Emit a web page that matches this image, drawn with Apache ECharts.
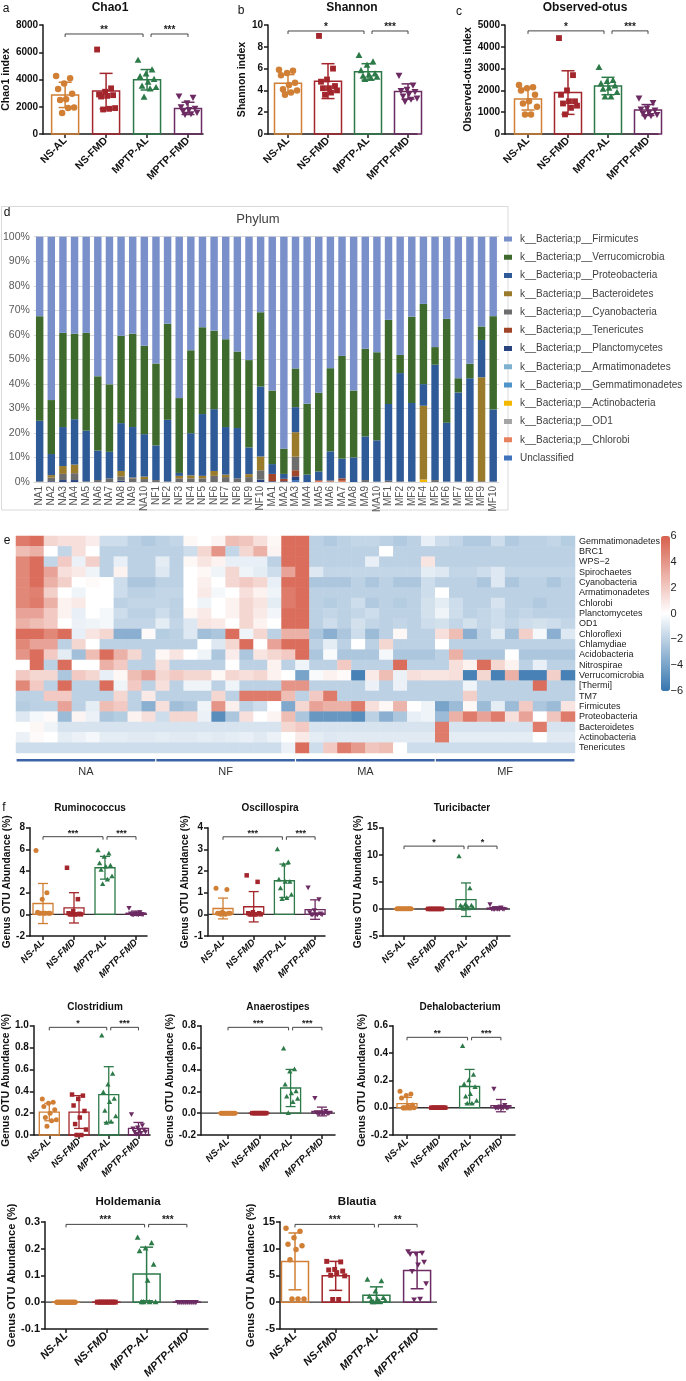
<!DOCTYPE html>
<html><head><meta charset="utf-8">
<script src="https://cdn.jsdelivr.net/npm/echarts@6/dist/echarts.min.js"></script>
<style>html,body{margin:0;padding:0;background:#fff}#c{width:686px;height:1381px}</style>
</head><body><div id="c"></div>
<script>
const FONT = '"Liberation Sans", Arial, sans-serif';
const NARROW = '"Liberation Sans Narrow", "Arial Narrow", "Liberation Sans", sans-serif';

// ---------- common groups ----------
const groups = ['NS-AL', 'NS-FMD', 'MPTP-AL', 'MPTP-FMD'];
const groupColors = ['#d07f35', '#a3262c', '#2d7a49', '#6c2b62'];

// ---------- panel a-c ----------
const chao1Mean = [2870, 3150, 3980, 1880];
const chao1Sd = [930, 1300, 750, 450];
const chao1Points = [
  [4250, 4100, 3700, 3300, 2950, 2550, 2500, 1950, 1900, 1550],
  [6200, 3350, 3100, 2900, 2850, 2800, 2750, 1900, 1850, 1800],
  [5400, 4700, 4400, 4200, 4000, 3800, 3500, 3400, 3300, 2700],
  [2800, 2700, 2300, 2000, 1900, 1800, 1700, 1600, 1500, 1450]];
const chao1Sig = ['**', '***'];

const shannonMean = [4.65, 4.85, 5.7, 3.9];
const shannonSd = [0.8, 1.6, 0.75, 0.7];
const shannonPoints = [
  [5.9, 5.8, 5.6, 5.4, 4.7, 4.5, 4.1, 4.0, 3.8, 3.6],
  [9.0, 6.0, 5.0, 4.8, 4.4, 4.2, 4.2, 4.0, 3.8, 3.6],
  [7.2, 6.6, 6.3, 5.8, 5.5, 5.4, 5.3, 5.2, 5.1, 5.0],
  [5.4, 4.5, 4.1, 4.0, 3.9, 3.7, 3.5, 3.3, 3.2, 3.0]];
const shannonSig = ['*', '***'];

const otusMean = [1600, 1900, 2200, 1100];
const otusSd = [500, 1000, 400, 250];
const otusPoints = [
  [2250, 2150, 2100, 2000, 1800, 1500, 1400, 1250, 900, 900],
  [4400, 2700, 2000, 1800, 1500, 1500, 1400, 1300, 1200, 900],
  [3050, 2450, 2400, 2300, 2200, 2100, 2050, 1900, 1700, 1700],
  [1650, 1450, 1200, 1150, 1100, 1000, 950, 900, 850, 800]];
const otusSig = ['*', '***'];

// ---------- panel f ----------
const ruminoMean = [1.0, 0.6, 4.3, 0.1];
const ruminoSd = [1.85, 1.4, 1.05, 0.2];
const ruminoPoints = [
  [5.9, 2.0, 1.4, 0.2, 0.1, 0.1, 0.1, 0.1, 0.1, 0.1],
  [4.3, 1.4, 0.3, 0.1, 0.05, 0, 0, 0, 0, 0],
  [5.9, 5.6, 5.3, 4.7, 4.5, 4.4, 4.1, 3.5, 3.2, 2.8],
  [0.6, 0.2, 0.1, 0.1, 0.05, 0.05, 0, 0, 0, 0]];
const ruminoSig = ['***', '***'];

const oscilloMean = [0.27, 0.35, 1.55, 0.22];
const oscilloSd = [0.48, 0.7, 0.77, 0.45];
const oscilloPoints = [
  [1.2, 1.15, 0.1, 0.05, 0.05, 0.05, 0.05, 0.05, 0, 0],
  [1.8, 1.5, 0.1, 0.05, 0.05, 0, 0, 0, 0, 0],
  [3.0, 2.4, 2.3, 1.6, 1.5, 1.5, 1.2, 0.9, 0.75, 0.7],
  [1.25, 0.7, 0.2, 0.1, 0.05, 0, 0, 0, 0, 0]];
const oscilloSig = ['***', '***'];

const turiciMean = [0, 0, 1.7, 0.15];
const turiciSd = [0, 0, 3.1, 0.25];
const turiciPoints = [
  [0.05, 0.05, 0.05, 0.05, 0.05, 0.05, 0.05, 0.05, 0.05, 0.05],
  [0, 0, 0, 0, 0, 0, 0, 0, 0, 0],
  [9.7, 3.8, 0.8, 0.6, 0.6, 0.5, 0.3, 0.2, 0.1, 0],
  [0.9, 0.3, 0.1, 0.05, 0.05, 0, 0, 0, 0, 0]];
const turiciSig = ['*', '*'];

const clostrMean = [0.21, 0.21, 0.37, 0.06];
const clostrSd = [0.08, 0.15, 0.255, 0.055];
const clostrPoints = [
  [0.33, 0.3, 0.29, 0.26, 0.23, 0.2, 0.16, 0.14, 0.13, 0.08],
  [0.37, 0.36, 0.33, 0.27, 0.22, 0.16, 0.1, 0.05, 0, 0],
  [0.91, 0.56, 0.46, 0.39, 0.33, 0.3, 0.22, 0.17, 0.12, 0.11],
  [0.19, 0.09, 0.07, 0.06, 0.05, 0.04, 0.03, 0.03, 0.02, 0.01]];
const clostrSig = ['*', '***'];

const anaeroMean = [0, 0, 0.23, 0.015];
const anaeroSd = [0, 0, 0.17, 0.04];
const anaeroPoints = [
  [0, 0, 0, 0, 0, 0, 0, 0, 0, 0],
  [0, 0, 0, 0, 0, 0, 0, 0, 0, 0],
  [0.59, 0.4, 0.38, 0.26, 0.2, 0.18, 0.15, 0.13, 0.1, 0.0],
  [0.14, 0.02, 0.01, 0.01, 0, 0, 0, 0, 0, 0]];
const anaeroSig = ['***', '***'];

const dehaloMean = [0.03, 0, 0.155, 0.015];
const dehaloSd = [0.045, 0, 0.125, 0.045];
const dehaloPoints = [
  [0.12, 0.1, 0.09, 0.07, 0.02, 0.01, 0, 0, 0, 0],
  [0, 0, 0, 0, 0, 0, 0, 0, 0, 0],
  [0.45, 0.24, 0.2, 0.17, 0.15, 0.1, 0.08, 0.05, 0.03, 0.03],
  [0.14, 0.02, 0.01, 0, 0, 0, 0, 0, 0, 0]];
const dehaloSig = ['**', '***'];

const holdemMean = [0, 0, 0.105, 0];
const holdemSd = [0, 0, 0.1, 0];
const holdemPoints = [
  [0, 0, 0, 0, 0, 0, 0, 0, 0, 0],
  [0, 0, 0, 0, 0, 0, 0, 0, 0, 0],
  [0.24, 0.22, 0.2, 0.19, 0.14, 0.08, 0, 0, 0, 0],
  [0, 0, 0, 0, 0, 0, 0, 0, 0, 0]];
const holdemSig = ['***', '***'];

const blautiaMean = [7.6, 4.9, 1.3, 5.9];
const blautiaSd = [5.3, 2.7, 1.55, 3.4];
const blautiaPoints = [
  [13.8, 13.2, 12.0, 10.8, 10.5, 9.8, 7.9, 0.6, 0.6, 0.6],
  [7.6, 7.5, 6.1, 6.0, 5.8, 5.5, 5.0, 4.9, 0.5, 0.5],
  [4.2, 3.9, 2.0, 1.0, 0.8, 0.5, 0.3, 0.2, 0.1, 0.0],
  [9.5, 9.2, 9.0, 9.0, 7.5, 7.0, 5.8, 3.5, 0.6, 0.5]];
const blautiaSig = ['***', '**'];

// ---------- panel d ----------
const samples = ['NA1','NA2','NA3','NA4','NA5','NA6','NA7','NA8','NA9','NA10',
  'NF1','NF2','NF3','NF4','NF5','NF6','NF7','NF8','NF9','NF10',
  'MA1','MA2','MA3','MA4','MA5','MA6','MA7','MA8','MA9','MA10',
  'MF1','MF2','MF3','MF4','MF5','MF6','MF7','MF8','MF9','MF10'];
const phylumNames = ['Unclassified','k__Bacteria;p__Chlorobi','k__Bacteria;p__OD1','k__Bacteria;p__Actinobacteria',
  'k__Bacteria;p__Gemmatimonadetes','k__Bacteria;p__Armatimonadetes','k__Bacteria;p__Planctomycetes',
  'k__Bacteria;p__Tenericutes','k__Bacteria;p__Cyanobacteria','k__Bacteria;p__Bacteroidetes',
  'k__Bacteria;p__Proteobacteria','k__Bacteria;p__Verrucomicrobia','k__Bacteria;p__Firmicutes'];
const phylumColors = ['#4173bb','#e8825e','#a5a5a5','#f5b800','#4f93c9','#7eb0cf','#2a4480',
  '#a0452a','#6d6d6d','#9a7b2c','#2f5a98','#3e6b2d','#7a90cb'];
const unclassified = [0,0,0,0,0,0,0,0,0,0, 0,0,0,0,0,0,0,0,0,0, 0,0,0.8,0,0,0,0,0,0,0, 0,0,0,0,0,0,0,0,0,0];
const chlorobi = [0,0,0,0,0,0,0,0,0,0, 0,0,0,0,0,0,0,0,0,0, 0,0,0,0,0.4,0.3,0.5,0,0,0, 0,0,0,0,0,0,0,0,0,0];
const od1 = [0,0,0,0,0,0,0,0,0,0, 0,0,0,0,0,0,0,0,0,0, 0,0,0,0,0,0,0,0,0,0, 0,0,0,0,0,0,0,0,0,0];
const actino = [0,0,0,0,0,0,0,0,0,0, 0,0,0,0,0,0,0,0,0,0, 0,0,0,0,0,0,0,0,0,0, 0,0,0,1.0,0,0,0,0,0,0];
const gemma = [0,0,0,0,0,0,0,0,0,0, 0,0,0,0,0,0,0,0,0,0, 0,0,0,0,0,0,0,0,0,0, 0,0,0,0,0,0,0,0,0,0];
const armati = [0,0,0,0,0,0,0,0,0,0, 0,0,0,0,0,0,0,0,0,0, 0,0,0,0,0,0,0,0,0,0, 0,0,0,0,0,0,0,0,0,0];
const plancto = [0,0.3,0.8,0.8,0,0,0,0.5,0,0, 0,0,0,0,0,0,0,0,0,1.0, 0.3,0.3,1.5,0,0,0,0,0,0,0, 0,0,0,0,0,0,0,0,0,0];
const teneri = [0,0,0,0,0,0,0,0,0,0, 0,0,0,0,0,0,0,0,0,0, 3.0,1.0,2.5,0,0.3,0,1.0,0,0,0, 0,0,0,0,0,0,0,0,0,0];
const cyano = [0.3,1.5,2.5,2.8,0.3,0.8,1.5,1.8,1.5,1.2, 0.8,0.3,1.5,1.5,1.5,2.5,2.0,1.5,2.0,3.8,
  0,0,5.5,0,0,0.4,0,0,0.8,0.2, 0.5,0.3,0.2,0,0.8,0.2,0.2,0.3,0.3,0.2];
const bactero = [0,1.0,3.2,3.5,0,0,0,2.2,0.3,1.0, 0,0,1.0,1.2,1.0,2.0,1.0,0,1.2,5.6,
  0,0,10.0,0,0,0,0,0,0,0, 0,0,0,30.1,0,0,0,0,42.4,0];
const proteo = [24.7,8.6,15.9,18.5,20.6,12.0,10.8,19.5,20.6,17.3, 14.1,25.1,1.2,17.2,25.2,25.2,19.4,20.5,10.9,28.5,
  4.0,2.0,10.2,3.0,3.6,11.8,8.0,10.0,17.8,16.8, 31.3,44.1,32.0,8.8,47.0,24.0,36.3,42.0,15.2,29.4];
const verruco = [42.6,22.0,38.4,34.8,39.9,30.3,27.5,35.6,38.0,36.0, 33.4,39.1,30.5,33.8,35.4,32.0,35.8,31.2,35.6,30.3,
  30.0,10.3,15.8,28.9,32.1,33.9,41.9,27.3,35.7,35.9, 34.3,7.4,35.2,32.7,7.2,42.3,5.8,5.9,5.5,38.0];
const firmi = [32.4,66.6,39.2,39.6,39.2,56.9,60.2,40.4,39.6,44.5, 51.7,35.5,65.8,46.3,36.9,38.3,41.8,46.8,50.3,30.8,
  62.7,86.4,53.7,68.1,63.6,53.6,48.6,62.7,45.7,47.1, 33.9,48.2,32.6,27.4,45.0,33.5,57.7,51.8,36.6,32.4];
const phylumValues = [unclassified, chlorobi, od1, actino, gemma, armati, plancto, teneri, cyano, bactero, proteo, verruco, firmi];
const yPercentTicks = '{value}%';

// ---------- panel e ----------
const heatGroups = ['NA', 'NF', 'MA', 'MF'];
const heatGroupSpans = [[0, 9], [10, 19], [20, 29], [30, 39]];
const heatPhyla = ['Gemmatimonadetes','BRC1','WPS\u22122','Spirochaetes','Cyanobacteria','Armatimonadetes','Chlorobi',
  'Planctomycetes','OD1','Chloroflexi','Chlamydiae','Acidobacteria','Nitrospirae','Verrucomicrobia','[Thermi]',
  'TM7','Firmicutes','Proteobacteria','Bacteroidetes','Actinobacteria','Tenericutes'];
const heatRows = [
 [5,5.5,1.5,1.2,1.2,0.7,-1.5,-1.5,-2,-2.3,-2,-1.8,0.3,0,0.4,2.5,2.2,1.2,0.3,5.5, 5.5,-2,-2.3,-2,-1.8,-1.8,-2,-2.3,-2,-0.7,-1.5,-1.8,-2.3,-2.3,-1.5,-2.3,-2,-2,-1.8,-2.2],
 [2.5,3,0,-1.8,1.2,0,-2,-2,-2,-2,-2,-2,-1.5,1.5,4,-1.8,1.5,3,0.4,5.5, 5.5,-2,-2,-2,-2,-2,0,-2,-2,-2,-2,-2,-2,-2,-2,-2,-2,-2,-2,-2],
 [4.5,5.5,-1.8,2,-0.6,1.8,-2,-0.7,-2,-2,-0.8,-2,0.3,1.0,0.5,-0.7,-0.7,-0.7,-2,5.5, 5.5,-2,-2,-2,-2,-0.7,-2,-2,-2,1.0,-2,-2,-2,-2,-2,-2,-2,-2,-2,-2],
 [4.5,5.5,3.5,1.2,0.8,-0.5,-2,0.5,-2,-2,-1,-2,0,0.3,-0.5,1.5,-0.5,-0.8,-1.5,3.5, 5.5,-1,-1.8,-1.8,-1.8,-1.8,-1.8,-1.8,-1.8,-0.8,-1,-1.8,-1.8,-1.5,-1,-1.8,-1.8,-1.8,-1.8,-1.8],
 [4.5,5.5,3,1.8,0,0.2,0,-1.5,-2.5,-2.5,-2,-2,0,0.6,0,1.5,2,1.5,-0.7,5.5, 5.5,-2.5,-2.5,-2.5,-2,-2.5,-2,-2.5,-2.5,-1.5,-2,-2,-2,-2.5,-1,-2.5,-2,-2,-2.5,-2],
 [4.5,4.8,1.8,0,-0.5,0,0,-1.5,-2,-2,-1.8,-1.8,0,0.8,-0.3,0,1.2,0.5,-0.5,5, 5.5,-2,-2,-2,-2,-2,-2,-2,-2,-1.5,0,-2,-2,-2,-2,-2,-2,-2,-2,-2],
 [4.5,5,3,0.5,0.8,0,0,-2,-1.8,-1.8,-1.8,-2,0,-0.5,0,0.5,1.5,1,-0.8,5, 5.5,-2,-2.2,-2,-1.5,-2.3,-2,-2.2,-2,-1.3,-0.8,-1.5,-2,-2,-1.2,-2,-2,-2.3,-2,-2],
 [3.5,3.5,2,0.5,-0.7,0,-0.3,-1.5,-2,-2,-1.5,-2,0.3,0.8,0,0.5,1.5,0.8,-0.4,5.5, 5.5,-2,-1.8,-2,-1.8,-1.5,-2,-2,-2,-1.3,-0.5,-1.5,-2,-1.8,-1.5,-2,-1.8,-2,-2,-2],
 [3,2.5,2,0,-0.6,-0.5,-0.3,-1.8,-1.8,-1.8,-0.8,-1.8,-1,1,0.8,0,1.5,0.5,0,5.5, 5.5,-2,-1.5,-2,-1.3,-1.8,-2,-1.8,-2,-1.5,-1.3,-1.8,-1.3,-1.8,-1.5,-1.8,-1.5,-1.3,-1.5,-1.8],
 [5.5,5.5,4.5,5.5,-0.7,1,1.5,-3.5,-3.5,0.2,-2.2,-2,-1,-2.8,-2.5,5.5,-0.5,1.5,-2,3, 3,-2.5,-3.5,-2.5,-1.5,-3,-2,0.3,-2,-2,1.2,2.5,-3.5,-2,-0.8,-2.8,1.8,-0.3,-3.5,-1],
 [4.5,3.5,3.5,-2,1.5,0,-2,-2,-2,-2,-2,-2,-2,0,-1,1.5,5.5,0,3.5,5.5, 5.5,-2,-0.8,-2,0,-2,1.5,-2,-2,-2,0,-2,-2,-2,-2,-2,-2,-2,-2,-2],
 [4,5.5,2,-0.8,-2.8,2.5,5.5,3,1.5,-2,0.3,1,0,-0.5,-2.5,0.7,-2.5,1,1.5,2, 5.5,-2.5,-0.2,-2.5,-2.5,-2.5,-0.3,-2.5,-2.5,-2.5,-2,3,-2.5,-2.5,-2.5,0,-2.5,-2.5,-2.5,-2.5],
 [0,5.5,-2,5.5,0,0,3,2,-2,-2,1.2,-2,-2,-2,-2,0,-2,-2,0.5,-2, -0.5,-2,-2,2,-2,-2,-2,5.5,-2,-2,-2,1.2,0.5,5.5,1.5,0.5,-2,-0.7,-2,-2],
 [2,1.5,1.5,-2.5,2,1.5,-0.7,0.3,2.5,3.5,1.5,2,1.5,1.5,0.3,1.5,1.2,1.5,0.5,0, -4,-0.2,0.5,0.2,-5.5,0.8,2.5,-0.6,1.2,1,1,1.2,-5.5,1.5,-5.5,3,-5.5,-5.5,1.8,-5.5],
 [4.5,2,-2,5.5,-2,-2,5.5,-0.5,2,-2,1.2,-2,-0.5,-0.5,-2,-0.5,-2,-2,-2,4, 4,-2,-2,-2,-2,-0.6,-2,-0.6,-2,-2,-2,-2,-0.5,-2,-2,-2,-2,5.5,-2,-2],
 [-2,-2,2,2,-2,-2,-2,1.5,-2,0.8,-2,-2,-2,-2,1.5,-2,5,5,5,2.5, -2,2,5,-2,-2,-2,-2,-2,-2,-2,-2,-2,1.8,-2,-2,-2,-2,-2,-2,-2],
 [-2.2,-2,-2,3.5,-2,-0.8,2.5,2,-2,-3.5,1.2,-2.8,-2.5,-0.5,4,0.6,-2,-1.5,0,-3.8, 1.5,3.5,3,3,5,1.2,0.3,2.8,0,-0.5,-4,-3,0.3,-3,-0.8,-3,2,-2.5,-3,1],
 [-1,-0.3,0.2,-3,0.4,-0.6,-2.5,-2.2,0.5,1.2,-1.5,1.5,1.5,-0.6,-5,-2.5,1.2,0,0.4,2.5, -2.5,-4.5,-4.5,-4.5,-5,-2,-3.5,-2.5,-0.7,-0.5,-3,3,5,3.5,5,1.2,3.5,0,2.2,5],
 [0,0.3,-0.5,-1.2,-1.2,-1.2,-1.2,-1.2,-1.2,-1.2,-1.2,-1.2,-1.2,-1.2,-1.2,-1.2,-1.2,-1.2,-1.2,1.5, 2,-1.2,-1.2,-1.2,-1.2,-1.2,-1.2,-1.2,-1.2,-1.2,5,-1.2,-1.2,-1.2,-1.2,-1.2,-1.2,5,-1.2,-1.2],
 [-0.6,0.2,0,-0.8,-0.6,-0.3,-0.8,-0.8,-0.9,-0.9,-0.8,-0.9,-0.9,-0.8,-0.9,-0.8,-0.7,-0.9,-0.6,0, 0.8,-0.8,-1,-0.9,-0.9,-0.9,-0.9,-0.9,-0.9,-0.9,5,-0.8,-0.8,-0.8,-0.8,-0.8,-0.8,0,-0.9,-0.9],
 [-1.5,-1.5,-1.5,-1.5,-1.5,-1.5,-1.5,-1.5,-1.5,-1.5,-1.5,-1.5,-1.5,-1.5,-1.5,-1.5,-1.5,-1.5,-1.5,-0.6, 5.5,-1.5,2,5,3.8,2.2,2.5,0,-1.5,-1.5,-1.5,-1.5,-1.5,-1.5,-1.5,-1.5,-1.5,-1.5,-1.5,-1.5]];
const heatColors = ['#3676ae', '#ffffff', '#d7604c'];

// =====================================================================
const option = {
  animation: false, backgroundColor: '#ffffff',
  textStyle: { fontFamily: FONT },
  grid: [], xAxis: [], yAxis: [], series: [], graphic: []
};
function addText(x, y, text, font, extra) {
  option.graphic.push({ type: 'text', x: x, y: y, z: 100, silent: true,
    style: Object.assign({ text: text, font: font, fill: '#111', align: 'center', verticalAlign: 'middle',
      textAlign: 'center', textVerticalAlign: 'middle' }, extra || {}) });
}
function shapeFor(g, x, y, r, color) {
  if (g === 0) return { type: 'circle', shape: { cx: x, cy: y, r: r }, style: { fill: color } };
  if (g === 1) return { type: 'rect', shape: { x: x - r * 0.9, y: y - r * 0.9, width: r * 1.8, height: r * 1.8 }, style: { fill: color } };
  if (g === 2) return { type: 'polygon', shape: { points: [[x, y - r * 1.15], [x + r * 1.05, y + r * 0.75], [x - r * 1.05, y + r * 0.75]] }, style: { fill: color } };
  return { type: 'polygon', shape: { points: [[x, y + r * 1.15], [x + r * 1.05, y - r * 0.75], [x - r * 1.05, y - r * 0.75]] }, style: { fill: color } };
}

function barPanel(p) {
  const gi = option.grid.length;
  const c3 = p.c0 + 3 * p.step;
  const xmin = -(p.c0 - p.ax) / p.step, xmax = 3 + (p.end - c3) / p.step;
  const axisCol = '#1a1a1a';
  option.grid.push({ left: p.ax, top: p.top, width: p.end - p.ax, height: p.bottom - p.top });
  option.xAxis.push({ type: 'value', gridIndex: gi, min: xmin, max: xmax, splitLine: { show: false },
    axisLine: { show: true, onZero: false, lineStyle: { color: axisCol, width: 1.5 } },
    axisTick: { show: true, customValues: [0, 1, 2, 3], length: 4, lineStyle: { color: axisCol, width: 1.5 } },
    axisLabel: { customValues: [0, 1, 2, 3], formatter: v => groups[Math.round(v)] || '', rotate: 45, fontSize: p.xfs,
      fontWeight: 'bold', fontStyle: p.italic ? 'italic' : 'normal', color: '#111', margin: 5, fontFamily: FONT } });
  option.yAxis.push({ type: 'value', gridIndex: gi, min: p.ymin, max: p.ymax, interval: p.interval, splitLine: { show: false },
    axisLine: { show: true, onZero: false, lineStyle: { color: axisCol, width: 1.5 } },
    axisTick: { show: true, length: 4, lineStyle: { color: axisCol, width: 1.5 } },
    axisLabel: { fontSize: p.yfs, fontWeight: 'bold', color: '#111', margin: 5, fontFamily: FONT,
      formatter: v => (p.dec ? v.toFixed(p.dec) : String(Math.round(v))) },
    name: p.yName, nameLocation: 'middle', nameGap: p.nameGap,
    nameTextStyle: { fontSize: p.nfs, fontWeight: 'bold', color: '#111', fontFamily: FONT } });
  const base = { type: 'custom', xAxisIndex: gi, yAxisIndex: gi, silent: true, clip: false };
  if (p.ymin < 0) {
    option.series.push(Object.assign({}, base, { data: [[0, 0]], z: 1,
      renderItem: (params, api) => { const cs = params.coordSys; const y = api.coord([0, 0])[1];
        return { type: 'line', shape: { x1: cs.x, y1: y, x2: cs.x + cs.width, y2: y }, style: { stroke: '#333', lineWidth: 1.4 } }; } }));
  }
  // bars
  option.series.push(Object.assign({}, base, { z: 2, data: p.mean.map((m, i) => [i, m]), encode: { x: 0, y: 1 },
    renderItem: (params, api) => { const i = api.value(0), m = api.value(1);
      const a = api.coord([i, 0]), b = api.coord([i, m]); const w = p.barW;
      return { type: 'rect', shape: { x: a[0] - w / 2, y: Math.min(a[1], b[1]), width: w, height: Math.max(0.01, Math.abs(a[1] - b[1])) },
        style: { fill: 'rgba(255,255,255,0)', stroke: groupColors[i], lineWidth: p.lw } }; } }));
  // points
  const pts = [];
  p.pts.forEach((arr, g) => arr.forEach((v, k) => pts.push([g, v, k])));
  option.series.push(Object.assign({}, base, { z: 3, data: pts, encode: { x: 0, y: 1 },
    renderItem: (params, api) => { const g = api.value(0), v = api.value(1), k = api.value(2);
      const c = api.coord([g, v]); const off = (((k * 7) % 10) - 4.5) / 4.5 * p.jit;
      return shapeFor(g, c[0] + off, c[1], p.ps / 2, groupColors[g]); } }));
  // error bars
  option.series.push(Object.assign({}, base, { z: 4, data: p.mean.map((m, i) => [i, m, p.sd[i]]), encode: { x: 0, y: 1 },
    renderItem: (params, api) => { const i = api.value(0), m = api.value(1), s = api.value(2);
      if (!s) return null;
      const t = api.coord([i, m + s]), b = api.coord([i, m - s]); const cw = p.capW / 2;
      const st = { stroke: groupColors[i], lineWidth: p.lw };
      return { type: 'group', children: [
        { type: 'line', shape: { x1: t[0], y1: t[1], x2: b[0], y2: b[1] }, style: st },
        { type: 'line', shape: { x1: t[0] - cw, y1: t[1], x2: t[0] + cw, y2: t[1] }, style: st },
        { type: 'line', shape: { x1: b[0] - cw, y1: b[1], x2: b[0] + cw, y2: b[1] }, style: st }] }; } }));
  // brackets
  option.series.push(Object.assign({}, base, { z: 5, data: [[0, 2, p.sigLevel], [2, 3, p.sigLevel]], encode: { x: [0, 1], y: 2 },
    renderItem: (params, api) => { const a = api.coord([api.value(0), api.value(2)]), b = api.coord([api.value(1), api.value(2)]);
      let x1 = a[0], x2 = b[0]; if (params.dataIndex === 0) x2 -= p.bgap; else x1 += p.bgap; const y = a[1];
      return { type: 'group', children: [
        { type: 'polyline', shape: { points: [[x1, y + 3], [x1, y], [x2, y], [x2, y + 3]] }, style: { stroke: '#444', lineWidth: 1, fill: null } },
        { type: 'text', x: (x1 + x2) / 2, y: y + 1, style: { text: p.sig[params.dataIndex], font: 'bold ' + p.sfs + 'px ' + FONT, fill: '#222',
          align: 'center', verticalAlign: 'bottom', textAlign: 'center', textVerticalAlign: 'bottom' } }] }; } }));
  addText(p.titleX, p.titleY, p.title, 'bold ' + p.tfs + 'px ' + FONT);
}

const sizeAC = { barW: 27, capW: 13, ps: 6.5, lw: 1.5, jit: 9, xfs: 10.5, yfs: 10, nfs: 10.5, tfs: 12, sfs: 10, bgap: 4, italic: false };
const sizeF = { barW: 20, capW: 10, ps: 5, lw: 1.3, jit: 7, xfs: 9.5, yfs: 10, nfs: 10.2, tfs: 10, sfs: 9, bgap: 2, italic: true };
const sizeF3 = { barW: 27, capW: 13, ps: 5.5, lw: 1.5, jit: 9, xfs: 11, yfs: 11, nfs: 11, tfs: 11.5, sfs: 10, bgap: 2, italic: true };
const GY = 'Genus OTU Abundance (%)';

barPanel(Object.assign({}, sizeAC, { ax: 43, end: 203, c0: 65, step: 41, top: 25, bottom: 134, ymin: 0, ymax: 8000, interval: 2000,
  mean: chao1Mean, sd: chao1Sd, pts: chao1Points, sig: chao1Sig, sigLevel: 7340, yName: 'Chao1 index', nameGap: 28, title: 'Chao1', titleX: 110, titleY: 8 }));
barPanel(Object.assign({}, sizeAC, { ax: 268, end: 417, c0: 288, step: 40, top: 25, bottom: 134, ymin: 0, ymax: 10, interval: 2,
  mean: shannonMean, sd: shannonSd, pts: shannonPoints, sig: shannonSig, sigLevel: 9.45, yName: 'Shannon index', nameGap: 19, title: 'Shannon', titleX: 352, titleY: 8 }));
barPanel(Object.assign({}, sizeAC, { ax: 505, end: 658, c0: 528, step: 40, top: 25, bottom: 134, ymin: 0, ymax: 5000, interval: 1000,
  mean: otusMean, sd: otusSd, pts: otusPoints, sig: otusSig, sigLevel: 4730, yName: 'Observed-otus index', nameGap: 31, title: 'Observed-otus', titleX: 585, titleY: 8 }));

barPanel(Object.assign({}, sizeF, { ax: 30, end: 147, c0: 43, step: 31, top: 827.7, bottom: 936, ymin: -2, ymax: 8, interval: 2,
  mean: ruminoMean, sd: ruminoSd, pts: ruminoPoints, sig: ruminoSig, sigLevel: 7.17, yName: GY, nameGap: 12, title: 'Ruminococcus', titleX: 90, titleY: 808 }));
barPanel(Object.assign({}, sizeF, { ax: 208, end: 325, c0: 223, step: 30.7, top: 827.7, bottom: 936, ymin: -1, ymax: 4, interval: 1,
  mean: oscilloMean, sd: oscilloSd, pts: oscilloPoints, sig: oscilloSig, sigLevel: 3.58, yName: GY, nameGap: 12, title: 'Oscillospira', titleX: 270, titleY: 808 }));
barPanel(Object.assign({}, sizeF, { ax: 383, end: 510, c0: 404, step: 31, top: 827.7, bottom: 936, ymin: -5, ymax: 15, interval: 5,
  mean: turiciMean, sd: turiciSd, pts: turiciPoints, sig: turiciSig, sigLevel: 11.6, yName: GY, nameGap: 18, title: 'Turicibacter', titleX: 462, titleY: 808 }));

barPanel(Object.assign({}, sizeF, { ax: 30, end: 150, c0: 46, step: 30.7, top: 1025.7, bottom: 1135, ymin: 0, ymax: 1.0, interval: 0.2, dec: 1,
  mean: clostrMean, sd: clostrSd, pts: clostrPoints, sig: clostrSig, sigLevel: 0.985, yName: GY, nameGap: 18, title: 'Clostridium', titleX: 95, titleY: 1007 }));
barPanel(Object.assign({}, sizeF, { ax: 201, end: 335, c0: 228, step: 31.3, top: 1025.7, bottom: 1135, ymin: -0.2, ymax: 0.8, interval: 0.2, dec: 1,
  mean: anaeroMean, sd: anaeroSd, pts: anaeroPoints, sig: anaeroSig, sigLevel: 0.785, yName: GY, nameGap: 20, title: 'Anaerostipes', titleX: 278, titleY: 1007 }));
barPanel(Object.assign({}, sizeF, { ax: 393, end: 515, c0: 407, step: 31.3, top: 1025.7, bottom: 1135, ymin: -0.2, ymax: 0.6, interval: 0.2, dec: 1,
  mean: dehaloMean, sd: dehaloSd, pts: dehaloPoints, sig: dehaloSig, sigLevel: 0.515, yName: GY, nameGap: 20, title: 'Dehalobacterium', titleX: 460, titleY: 1007 }));

barPanel(Object.assign({}, sizeF3, { ax: 45, end: 208, c0: 66, step: 40.3, top: 1221.7, bottom: 1329.3, ymin: -0.1, ymax: 0.3, interval: 0.1, dec: 1,
  mean: holdemMean, sd: holdemSd, pts: holdemPoints, sig: holdemSig, sigLevel: 0.29, yName: GY, nameGap: 24, title: 'Holdemania', titleX: 128, titleY: 1202 }));
barPanel(Object.assign({}, sizeF3, { ax: 280, end: 437, c0: 295, step: 40.7, top: 1221.7, bottom: 1329.3, ymin: -5, ymax: 15, interval: 5,
  mean: blautiaMean, sd: blautiaSd, pts: blautiaPoints, sig: blautiaSig, sigLevel: 14.5, yName: GY, nameGap: 24, title: 'Blautia', titleX: 357, titleY: 1202 }));

// ---------------- panel d: stacked bars ----------------
(function () {
  const gi = option.grid.length;
  option.grid.push({ left: 29.8, top: 236.7, width: 469.2, height: 245.3 });
  option.xAxis.push({ type: 'category', gridIndex: gi, data: samples,
    axisLine: { lineStyle: { color: '#d9d9d9' } }, axisTick: { show: false },
    axisLabel: { interval: 0, rotate: 90, fontSize: 10, color: '#595959', margin: 4, fontFamily: FONT } });
  option.yAxis.push({ type: 'value', gridIndex: gi, min: 0, max: 100, interval: 10,
    axisLine: { show: false }, axisTick: { show: false },
    splitLine: { lineStyle: { color: '#d9d9d9', width: 1 } },
    axisLabel: { formatter: yPercentTicks, fontSize: 10.5, color: '#595959', margin: 4, fontFamily: FONT } });
  phylumNames.forEach((nm, s) => {
    option.series.push({ type: 'bar', name: nm, stack: 'phylum', xAxisIndex: gi, yAxisIndex: gi, barWidth: '64%',
      data: phylumValues[s], itemStyle: { color: phylumColors[s] }, silent: true });
  });
  option.legend = { data: phylumNames.slice().reverse(), orient: 'vertical', left: 504, top: 233,
    itemWidth: 8, itemHeight: 5, itemGap: 6.25, icon: 'rect', padding: 0,
    textStyle: { fontSize: 10, color: '#404040', lineHeight: 12, fontFamily: FONT, padding: [0, 0, 0, 3] } };
  option.graphic.push({ type: 'rect', z: -1, silent: true, shape: { x: 1.5, y: 206.5, width: 506.5, height: 303.5 },
    style: { fill: 'none', stroke: '#d9d9d9', lineWidth: 1 } });
  addText(258, 219, 'Phylum', '13px ' + FONT, { fill: '#404040' });
})();

// ---------------- panel e: heatmap ----------------
(function () {
  const gi = option.grid.length;
  option.grid.push({ left: 16, top: 536, width: 559, height: 217 });
  option.xAxis.push({ type: 'category', gridIndex: gi, data: samples, show: false });
  option.yAxis.push({ type: 'category', gridIndex: gi, data: heatPhyla, inverse: true, position: 'right',
    axisLine: { show: false }, axisTick: { show: false },
    axisLabel: { interval: 0, fontSize: 9, color: '#222', margin: 4, fontFamily: NARROW } });
  const heatData = [];
  heatRows.forEach((row, r) => row.forEach((v, c) => heatData.push([c, r, v])));
  const hmIndex = option.series.length;
  option.series.push({ type: 'heatmap', xAxisIndex: gi, yAxisIndex: gi, data: heatData, silent: true,
    itemStyle: { borderWidth: 0 } });
  option.series.push({ type: 'custom', xAxisIndex: gi, yAxisIndex: gi, silent: true, clip: false,
    data: heatGroupSpans.map(s => [s[0], s[1], 0]), encode: { x: [0, 1], y: 2 },
    renderItem: (params, api) => {
      const cw = api.size([1, 0])[0];
      const x1 = api.coord([api.value(0), 0])[0] - cw / 2, x2 = api.coord([api.value(1), 0])[0] + cw / 2;
      const cs = params.coordSys; const y = cs.y + cs.height + 6;
      return { type: 'group', children: [
        { type: 'rect', shape: { x: x1 + 0.6, y: y, width: x2 - x1 - 1.2, height: 2.6 }, style: { fill: '#3b63a6' } },
        { type: 'text', x: (x1 + x2) / 2, y: y + 13, style: { text: heatGroups[params.dataIndex], font: '11px ' + FONT, fill: '#333',
          align: 'center', verticalAlign: 'middle', textAlign: 'center', textVerticalAlign: 'middle' } }] };
    } });
  option.visualMap = { type: 'continuous', seriesIndex: hmIndex, min: -6, max: 6, calculable: false,
    inRange: { color: heatColors }, orient: 'vertical', left: 661, top: 536, itemWidth: 9, itemHeight: 155, padding: 0,
    textStyle: { fontSize: 10 } };
  // colour bar scale labels
  const ci = option.grid.length;
  option.grid.push({ left: 661, top: 536, width: 9, height: 155 });
  option.xAxis.push({ type: 'value', gridIndex: ci, show: false, min: 0, max: 1 });
  option.yAxis.push({ type: 'value', gridIndex: ci, min: -6, max: 6, interval: 2, position: 'right',
    axisLine: { show: false }, axisTick: { show: false }, splitLine: { show: false },
    axisLabel: { fontSize: 11, color: '#222', margin: 4, fontFamily: FONT, formatter: v => String(v).replace('-', '\u2212') } });
})();

// panel letters
addText(6, 9, 'a', '12px ' + FONT);
addText(241, 11, 'b', '12px ' + FONT);
addText(459, 12, 'c', '12px ' + FONT);
addText(7, 213, 'd', '12px ' + FONT);
addText(7, 541, 'e', '12px ' + FONT);
addText(4, 808, 'f', '12px ' + FONT);

const chart = echarts.init(document.getElementById('c'), null, { renderer: 'canvas' });
chart.setOption(option);
</script></body></html>
